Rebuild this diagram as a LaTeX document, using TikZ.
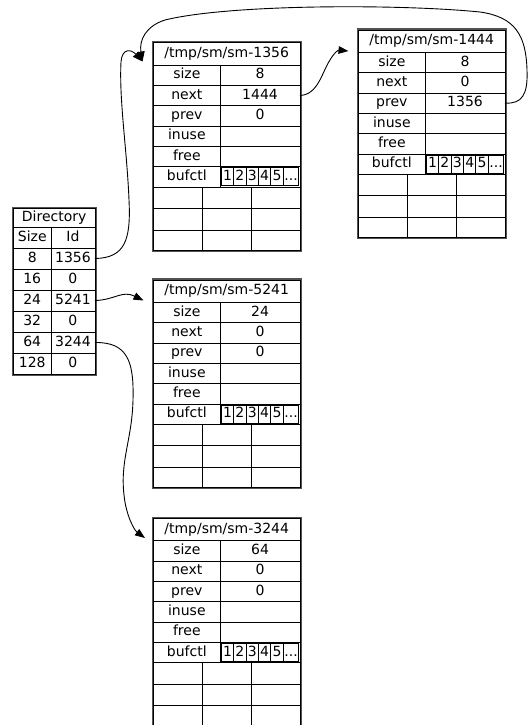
\documentclass[tikz,border=0pt]{standalone}
\usepackage{fontspec}
\setmainfont{DejaVu Sans}
\usetikzlibrary{arrows.meta}

\newcommand\cellfont{\fontsize{14}{16}\selectfont}

\tikzset{
  cell/.style={draw=black, line width=0.8pt, inner sep=0pt, outer sep=0pt,
               font=\cellfont, text=black, text height=10.3pt, text depth=3pt},
  subcell/.style={cell, line width=1.1pt},
  frame/.style={draw=black!68, line width=1.8pt},
  link/.style={draw=black, line width=0.9pt, -{Triangle[length=10pt,width=7.5pt]}},
}

% a rectangular cell from (x1,y1) to (x2,y2), named #1
\newcommand\cellbox[6]{%
  \node[cell, minimum width={(#4-#2)*1pt}, minimum height={(#5-#3)*1pt}]
    (#1) at ({(#2+#4)/2},{(#3+#5)/2}) {#6};}
\newcommand\subbox[6]{%
  \node[subcell, minimum width={(#4-#2)*1pt}, minimum height={(#5-#3)*1pt}]
    (#1) at ({(#2+#4)/2},{(#3+#5)/2}) {#6};}

% shared-memory segment: #1 name, #2 left, #3 top, #4 path, #5 size, #6 next, #7 prev
\newcommand\memblock[7]{%
  \begin{scope}[shift={(#2,#3)}]
    \draw[frame] (0.9,0.9) rectangle (149.1,210.1);
    \cellbox{#1title}{1.8}{1.8}{148.2}{24}{#4}
    \cellbox{#1sizek}{1.8}{24}{68.5}{44.3}{size}
    \cellbox{#1size}{68.5}{24}{148.2}{44.3}{#5}
    \cellbox{#1nextk}{1.8}{44.3}{68.5}{64.6}{next}
    \cellbox{#1next}{68.5}{44.3}{148.2}{64.6}{#6}
    \cellbox{#1prevk}{1.8}{64.6}{68.5}{85}{prev}
    \cellbox{#1prev}{68.5}{64.6}{148.2}{85}{#7}
    \cellbox{#1inusek}{1.8}{85}{68.5}{105.3}{inuse}
    \cellbox{#1inuse}{68.5}{85}{148.2}{105.3}{}
    \cellbox{#1freek}{1.8}{105.3}{68.5}{125.6}{free}
    \cellbox{#1free}{68.5}{105.3}{148.2}{125.6}{}
    \cellbox{#1bufk}{1.8}{125.6}{68.5}{146}{bufctl}
    \cellbox{#1buf}{68.5}{125.6}{148.2}{146}{}
    \subbox{#1b1}{69.6}{126.7}{82}{144.9}{1}
    \subbox{#1b2}{82}{126.7}{94.4}{144.9}{2}
    \subbox{#1b3}{94.4}{126.7}{106.8}{144.9}{3}
    \subbox{#1b4}{106.8}{126.7}{119.2}{144.9}{4}
    \subbox{#1b5}{119.2}{126.7}{131.6}{144.9}{5}
    \subbox{#1bd}{131.6}{126.7}{147.1}{144.9}{...}
    \foreach \r/\ya/\yb in {1/146/167.5, 2/167.5/189, 3/189/209.2}
      \foreach \c/\xa/\xb in {1/1.8/50.5, 2/50.5/100, 3/100/148.2}
        {\cellbox{#1g\r\c}{\xa}{\ya}{\xb}{\yb}{}}
  \end{scope}}

\begin{document}
\begin{tikzpicture}[x=1pt,y=-1pt]
  \useasboundingbox (0,0) rectangle (528,725);
  \clip (0,0) rectangle (528,725);
  \fill[white] (0,0) rectangle (528,725);

  % directory of segments
  \begin{scope}[shift={(11.7,206.7)}]
    \draw[frame] (0.9,0.9) rectangle (84.1,168.3);
    \cellbox{dtitle}{1.8}{1.8}{83.2}{20.3}{Directory}
    \cellbox{dsize}{1.8}{20.3}{39.3}{41.3}{Size}
    \cellbox{did}{39.3}{20.3}{83.2}{41.3}{Id}
    \cellbox{ds8}{1.8}{41.3}{39.3}{62.3}{8}
    \cellbox{d1356}{39.3}{41.3}{83.2}{62.3}{1356}
    \cellbox{ds16}{1.8}{62.3}{39.3}{83.3}{16}
    \cellbox{d16}{39.3}{62.3}{83.2}{83.3}{0}
    \cellbox{ds24}{1.8}{83.3}{39.3}{104.3}{24}
    \cellbox{d5241}{39.3}{83.3}{83.2}{104.3}{5241}
    \cellbox{ds32}{1.8}{104.3}{39.3}{125.3}{32}
    \cellbox{d32}{39.3}{104.3}{83.2}{125.3}{0}
    \cellbox{ds64}{1.8}{125.3}{39.3}{146.3}{64}
    \cellbox{d3244}{39.3}{125.3}{83.2}{146.3}{3244}
    \cellbox{ds128}{1.8}{146.3}{39.3}{167.4}{128}
    \cellbox{d128}{39.3}{146.3}{83.2}{167.4}{0}
  \end{scope}

  % segments
  \memblock{m1356}{151.7}{41}{/tmp/sm/sm-1356}{8}{1444}{0}
  \memblock{m1444}{356.7}{28.3}{/tmp/sm/sm-1444}{8}{0}{1356}
  \memblock{m5241}{151.7}{278.3}{/tmp/sm/sm-5241}{24}{0}{0}
  \memblock{m3244}{151.7}{516.7}{/tmp/sm/sm-3244}{64}{0}{0}

  % arrow tips beside the segment titles
  \coordinate (in1356) at (142.5,61.5);
  \coordinate (in1444) at (348.5,51);
  \coordinate (in5241) at (143.5,300.5);
  \coordinate (in3244) at (145,538);

  % links
  \draw[link] (d1356.east) .. controls (125,258) and (131,240) .. (129,200)
                            .. controls (127,150) and (119,100) .. (121,62)
                            .. controls (122,48) and (131,49) .. (in1356);
  \draw[link] (m1444prev.east) .. controls (522,104) and (528,95) .. (527,70)
                               .. controls (526,35) and (515,17) .. (480,12)
                               .. controls (400,4) and (230,4) .. (165,20)
                               .. controls (146,26) and (139,40) .. (in1356);
  \draw[link] (m1356next.east) .. controls (318,95) and (322,72) .. (330,60)
                               .. controls (334,53) and (338,50) .. (in1444);
  \draw[link] (d5241.east) .. controls (115,300) and (122,290) .. (in5241);
  \draw[link] (d3244.east) .. controls (128,342) and (134,362) .. (133,400)
                           .. controls (132,440) and (120,460) .. (124,495)
                           .. controls (126,515) and (134,530) .. (in3244);
\end{tikzpicture}
\end{document}
